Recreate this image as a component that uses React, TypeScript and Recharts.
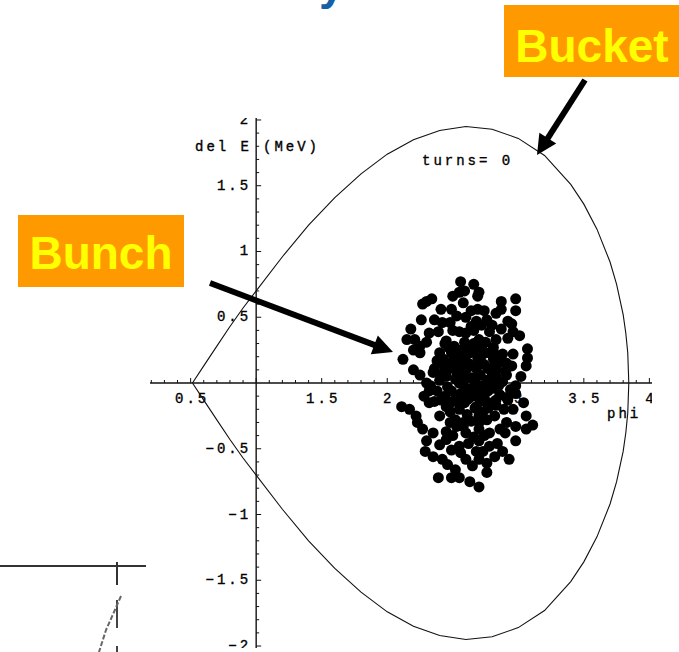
import { ScatterChart, Scatter, XAxis, YAxis, ReferenceLine } from 'recharts';

const WIDTH = 679;
const HEIGHT = 652;

// separatrix of the RF bucket, sampled in phase (upper and lower halves)
const bucketPhi = [0.514, 0.6, 0.7, 0.8, 0.9, 1.0, 1.2, 1.4, 1.6, 1.8, 2.0, 2.2, 2.4, 2.6, 2.8, 3.0, 3.2, 3.4, 3.5, 3.6, 3.7, 3.75, 3.8, 3.82, 3.835, 3.843];
const bucketUpper = [0, 0.13, 0.28, 0.43, 0.57, 0.7, 0.96, 1.2, 1.41, 1.59, 1.74, 1.85, 1.92, 1.95, 1.93, 1.86, 1.73, 1.51, 1.36, 1.17, 0.92, 0.75, 0.52, 0.38, 0.23, 0];
const bucketLower = [0, -0.13, -0.28, -0.43, -0.57, -0.7, -0.96, -1.2, -1.41, -1.59, -1.74, -1.85, -1.92, -1.95, -1.93, -1.86, -1.73, -1.51, -1.36, -1.17, -0.92, -0.75, -0.52, -0.38, -0.23, 0];

// bunch particles at turn 0: [phi, del E]
const bunch: [number, number][] = [
  // upper part
  [2.56, 0.77], [2.59, 0.70], [2.55, 0.69], [2.70, 0.69], [2.69, 0.66], [2.30, 0.62], [2.27, 0.60],
  [2.34, 0.64], [2.98, 0.64], [2.58, 0.61], [2.49, 0.56], [2.41, 0.56], [2.69, 0.56], [2.83, 0.53],
  [2.87, 0.56], [2.98, 0.55], [2.26, 0.48], [2.53, 0.51], [2.48, 0.46], [2.68, 0.47], [2.76, 0.48],
  [2.92, 0.47], [2.95, 0.45], [2.18, 0.41], [2.15, 0.33], [2.21, 0.33], [2.32, 0.38], [2.39, 0.39],
  [2.55, 0.39], [2.64, 0.43], [2.78, 0.39], [2.87, 0.41], [2.96, 0.39], [3.01, 0.36], [2.25, 0.28],
  [2.30, 0.31], [2.45, 0.32], [2.59, 0.31], [2.70, 0.33], [2.83, 0.33], [2.92, 0.34], [3.07, 0.26],
  [3.07, 0.19], [2.12, 0.18], [2.20, 0.10], [2.25, 0.23], [2.40, 0.23], [2.49, 0.23], [2.55, 0.19],
  [2.63, 0.23], [2.73, 0.22], [2.81, 0.18], [2.91, 0.15], [2.95, 0.13], [3.06, 0.13], [2.25, 0.06],
  [2.35, 0.08], [2.45, 0.10], [2.53, 0.08], [2.60, 0.10], [2.70, 0.06], [2.83, 0.10], [2.91, 0.06],
  [2.60, 0.38], [2.66, 0.40], [2.72, 0.44], [2.60, 0.50], [2.64, 0.55], [2.74, 0.55], [2.80, 0.44],
  [2.50, 0.40], [2.44, 0.30], [2.38, 0.17], [2.20, 0.25], [2.36, 0.48], [2.42, 0.46], [2.87, 0.62],
  [2.50, 0.66], [2.66, 0.75], [2.88, 0.22], [2.96, 0.22],
  // core
  [2.47, 0.27], [2.60, 0.24], [2.66, 0.30], [2.72, 0.27], [2.78, 0.23], [2.43, 0.18], [2.51, 0.20],
  [2.57, 0.20], [2.69, 0.19], [2.84, 0.21], [2.43, 0.14], [2.50, 0.16], [2.56, 0.12], [2.62, 0.15],
  [2.68, 0.11], [2.74, 0.14], [2.80, 0.08], [2.86, 0.16], [2.36, 0.11], [2.42, 0.07], [2.59, 0.06],
  [2.71, 0.06], [2.83, 0.05], [2.90, 0.09], [2.30, 0.0], [2.40, 0.02], [2.46, -0.03], [2.52, 0.03],
  [2.58, -0.01], [2.64, 0.04], [2.70, -0.02], [2.76, 0.02], [2.82, -0.04], [2.88, 0.01], [2.94, -0.05],
  [2.33, -0.02], [2.32, -0.06], [2.38, -0.06], [2.65, -0.04], [2.77, -0.06], [2.44, -0.10], [2.56, -0.08],
  [2.68, -0.07], [2.86, -0.09], [2.50, -0.14], [2.62, -0.12], [2.74, -0.11], [2.80, -0.15], [2.92, -0.13],
  [2.48, -0.22], [2.55, -0.20], [2.61, -0.24], [2.67, -0.19], [2.73, -0.22], [2.52, -0.28], [2.58, -0.33],
  [2.64, -0.29], [2.70, -0.30], [2.45, 0.05], [2.49, -0.06], [2.55, 0.00], [2.61, -0.05], [2.67, 0.01],
  [2.73, -0.04], [2.79, 0.00], [2.85, -0.02], [2.47, 0.11], [2.53, 0.14], [2.59, 0.17], [2.65, 0.13],
  [2.71, 0.17], [2.77, 0.11], [2.83, 0.13], [2.41, -0.13], [2.47, -0.17], [2.53, -0.10], [2.59, -0.15],
  [2.65, -0.10], [2.71, -0.14], [2.77, -0.19], [2.83, -0.17], [2.89, -0.20], [2.51, 0.28], [2.56, 0.25],
  [2.63, 0.28], [2.69, 0.25], [2.75, 0.31], [2.81, 0.27], [2.98, -0.02], [3.02, 0.05], [2.28, -0.10],
  [2.36, -0.14],
  // lower part
  [2.11, -0.18], [2.17, -0.20], [2.22, -0.25], [2.23, -0.30], [2.27, -0.35], [2.32, -0.15], [2.40, -0.25],
  [2.45, -0.18], [2.53, -0.13], [2.60, -0.13], [2.68, -0.18], [2.76, -0.15], [2.83, -0.13], [2.91, -0.11],
  [2.98, -0.08], [3.04, -0.15], [3.06, -0.25], [2.96, -0.20], [2.48, -0.30], [2.53, -0.33], [2.58, -0.30],
  [2.70, -0.25], [2.76, -0.28], [2.82, -0.25], [2.91, -0.30], [2.98, -0.33], [3.06, -0.35], [3.11, -0.32],
  [2.70, -0.35], [2.78, -0.38], [2.86, -0.35], [2.45, -0.43], [2.40, -0.47], [2.30, -0.44], [2.29, -0.52],
  [2.35, -0.56], [2.42, -0.58], [2.49, -0.51], [2.55, -0.48], [2.70, -0.44], [2.73, -0.52], [2.78, -0.48],
  [2.84, -0.46], [2.88, -0.52], [2.93, -0.58], [2.70, -0.58], [2.76, -0.61], [2.65, -0.63], [2.39, -0.72],
  [2.49, -0.72], [2.55, -0.72], [2.63, -0.75], [2.70, -0.79], [2.76, -0.68], [2.56, -0.53],
  [2.60, -0.38], [2.66, -0.41], [2.74, -0.40], [2.62, -0.46], [2.68, -0.52], [2.50, -0.40], [2.45, -0.37],
  [2.90, -0.38], [2.98, -0.44], [2.82, -0.56], [2.60, -0.58], [2.46, -0.62], [2.52, -0.66], [2.35, -0.38],
];

// axis ticks: majors every 0.5, minors every 0.1
const xMajor = [0.5, 1, 1.5, 2, 2.5, 3, 3.5, 4];
const xLabels = ['0.5', '', '1.5', '2', '2.5', '3', '3.5', '4'];
const yMajor = [-2, -1.5, -1, -0.5, 0.5, 1, 1.5, 2];
const yLabels = ['\u22122', '\u22121.5', '\u22121', '\u22120.5', '0.5', '1', '1.5', '2'];

const MONO = '"Liberation Mono", "DejaVu Sans Mono", monospace';
const SANS = '"Liberation Sans", Arial, sans-serif';

const xTickData: { phi: number; dE: number; major: boolean; label: string }[] = [];
for (let i = 2; i <= 40; i++) {
  const v = i / 10;
  const k = xMajor.findIndex((m) => Math.abs(m - v) < 1e-6);
  xTickData.push({ phi: v, dE: 0, major: k >= 0, label: k >= 0 ? xLabels[k] : '' });
}

const yTickData: { phi: number; dE: number; major: boolean; label: string }[] = [];
for (let i = -20; i <= 20; i++) {
  if (i === 0) continue;
  const v = i / 10;
  const k = yMajor.findIndex((m) => Math.abs(m - v) < 1e-6);
  yTickData.push({ phi: 1, dE: v, major: k >= 0, label: k >= 0 ? yLabels[k] : '' });
}

const bucketLoop = [
  ...bucketPhi.map((phi, i) => ({ phi, dE: bucketUpper[i] })),
  ...bucketPhi.map((phi, i) => ({ phi, dE: bucketLower[i] })).reverse(),
];

const bunchData = bunch.map(([phi, dE]) => ({ phi, dE }));

const monoText = {
  fontFamily: MONO,
  fontSize: 14,
  letterSpacing: 3,
  fill: '#000',
  stroke: '#000',
  strokeWidth: 0.35,
};

const XTick = (props: any) => {
  const { cx, cy, payload } = props;
  const len = payload.major ? 5 : 3;
  return (
    <g>
      <line x1={cx} y1={cy} x2={cx} y2={cy - len} stroke="#111" strokeWidth={1} />
      {payload.label ? (
        <text x={cx + 1.5} y={cy + 20} textAnchor="middle" {...monoText}>
          {payload.label}
        </text>
      ) : null}
    </g>
  );
};

const YTick = (props: any) => {
  const { cx, cy, payload } = props;
  const len = payload.major ? 5 : 3;
  return (
    <g>
      <line x1={cx} y1={cy} x2={cx + len} y2={cy} stroke="#111" strokeWidth={1} />
      {payload.label ? (
        <text x={cx - 5} y={cy + 4} textAnchor="end" {...monoText}>
          {payload.label}
        </text>
      ) : null}
    </g>
  );
};

const NoMark = () => <g />;

const Particle = (props: any) => <circle cx={props.cx} cy={props.cy} r={5.5} fill="#000" />;

function Arrow({ from, to }: { from: [number, number]; to: [number, number] }) {
  const dx = to[0] - from[0];
  const dy = to[1] - from[1];
  const len = Math.hypot(dx, dy);
  const ux = dx / len;
  const uy = dy / len;
  const head = 20;
  const half = 10;
  const bx = to[0] - ux * head;
  const by = to[1] - uy * head;
  return (
    <g>
      <line x1={from[0]} y1={from[1]} x2={bx + ux * 2} y2={by + uy * 2} stroke="#000" strokeWidth={6} />
      <polygon
        points={`${to[0]},${to[1]} ${bx - uy * half},${by + ux * half} ${bx + uy * half},${by - ux * half}`}
        fill="#000"
      />
    </g>
  );
}

export default function App() {
  return (
    <div style={{ position: 'absolute', left: 0, top: 0, width: WIDTH, height: HEIGHT, background: '#fff', overflow: 'hidden' }}>
      <ScatterChart width={WIDTH} height={HEIGHT} margin={{ top: 118, right: 27, bottom: 4, left: 150 }}>
        <XAxis type="number" dataKey="phi" domain={[0.19, 4.02]} allowDataOverflow hide />
        <YAxis type="number" dataKey="dE" domain={[-2.015, 2.015]} allowDataOverflow hide />
        <ReferenceLine y={0} stroke="#111" strokeWidth={1.4} />
        <ReferenceLine x={1} stroke="#111" strokeWidth={1.4} />
        <Scatter data={xTickData} shape={XTick} isAnimationActive={false} />
        <Scatter data={yTickData} shape={YTick} isAnimationActive={false} />
        <Scatter
          data={bucketLoop}
          line={{ stroke: '#111', strokeWidth: 1.1 }}
          lineType="joint"
          shape={NoMark}
          isAnimationActive={false}
        />
        <Scatter data={bunchData} shape={Particle} isAnimationActive={false} />
      </ScatterChart>

      <svg width={WIDTH} height={HEIGHT} style={{ position: 'absolute', left: 0, top: 0, pointerEvents: 'none' }}>
        {/* axis captions and turn counter */}
        <text x={252} y={151} textAnchor="end" {...monoText}>del E</text>
        <text x={263} y={151} {...monoText}>(MeV)</text>
        <text x={607} y={418} {...monoText}>phi</text>
        <text x={422} y={165} {...monoText}>turns= 0</text>

        {/* slide title, cut off at the top edge */}
        <text x={319} y={-1} fontFamily={SANS} fontSize={46} fontWeight="bold" fill="#1560a8">y</text>

        {/* callouts */}
        <rect x={504} y={5} width={180} height={72} fill="#ff9900" />
        <text x={592} y={62} textAnchor="middle" fontFamily={SANS} fontSize={46} fontWeight="bold" fill="#ffff00">Bucket</text>
        <rect x={18} y={215} width={166} height={72} fill="#ff9900" />
        <text x={101} y={269} textAnchor="middle" fontFamily={SANS} fontSize={46} fontWeight="bold" fill="#ffff00">Bunch</text>
        <Arrow from={[585, 80]} to={[537, 155]} />
        <Arrow from={[210, 283]} to={[393, 352]} />

        {/* edge of the neighbouring plot */}
        <line x1={0} y1={566} x2={146} y2={566} stroke="#333" strokeWidth={2} />
        <line x1={117} y1={562} x2={117} y2={585} stroke="#333" strokeWidth={2} />
        <line x1={117} y1={600} x2={117} y2={628} stroke="#444" strokeWidth={2} />
        <line x1={117} y1={646} x2={117} y2={652} stroke="#444" strokeWidth={2} />
        <polyline points="121,596 114,612 106,630 99,652" fill="none" stroke="#666" strokeWidth={2} strokeDasharray="5 2" />
      </svg>
    </div>
  );
}
